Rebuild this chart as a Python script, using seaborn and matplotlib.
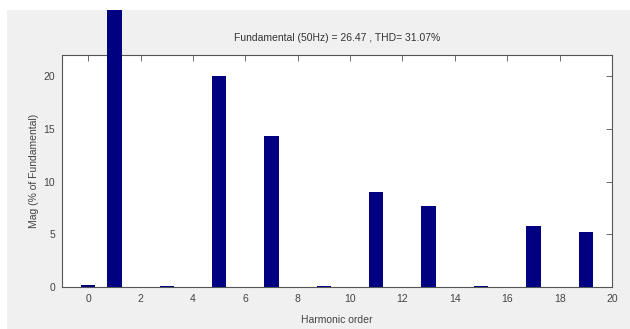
import matplotlib
matplotlib.use('Agg')
import matplotlib.pyplot as plt
import seaborn as sns
import pandas as pd
from matplotlib.patches import Rectangle
from matplotlib.transforms import Bbox, TransformedBbox

# harmonic spectrum (% of fundamental)
orders = list(range(0, 21))
mags = [0.15, 100.0, 0.0, 0.1, 0.0, 20.0, 0.0, 14.3, 0.0, 0.1, 0.0,
        9.0, 0.0, 7.7, 0.0, 0.1, 0.0, 5.8, 0.0, 5.2, 0.0]
title = 'Fundamental (50Hz) = 26.47 , THD= 31.07%'
xticks = list(range(0, 21, 2))
yticks = [0, 5, 10, 15, 20]

df = pd.DataFrame({'order': orders, 'mag': mags})

sns.set_style('white')
plt.rcParams['font.family'] = ['Liberation Sans', 'DejaVu Sans']

fig = plt.figure(figsize=(6.3, 3.29), dpi=100, facecolor='#f0f0f0')
# white strips at top and left (screenshot border)
fig.patches.append(Rectangle((0, 1 - 10 / 329), 1, 10 / 329, transform=fig.transFigure,
                             facecolor='white', edgecolor='none', zorder=-1))
fig.patches.append(Rectangle((0, 0), 7 / 630, 1, transform=fig.transFigure,
                             facecolor='white', edgecolor='none', zorder=-1))

ax = fig.add_axes([62 / 630, 1 - 287 / 329, 550 / 630, 232 / 329])
ax.set_facecolor('white')
sns.barplot(data=df, x='order', y='mag', native_scale=True, width=0.55,
            color='#000080', saturation=1, ax=ax, zorder=3, linewidth=0)

# bars are not clipped by the axes, only by the figure window
clip = TransformedBbox(Bbox([[0, 0], [1, 1 - 10 / 329]]), fig.transFigure)
for p in ax.patches:
    p.set_clip_box(clip)

ax.set_xlim(-1, 20)
ax.set_ylim(0, 22)
ax.set_xticks(xticks)
ax.set_yticks(yticks)
ax.tick_params(direction='in', top=True, right=True, length=4, width=0.6,
               color='#555555', labelsize=7.5, labelcolor='#444444', pad=5)
for s in ax.spines.values():
    s.set_color('#555555')
    s.set_linewidth(0.8)

ax.set_title(title, fontsize=7.5, color='#333333', pad=10)
ax.set_xlabel('Harmonic order', fontsize=7.5, color='#444444', labelpad=8)
ax.set_ylabel('Mag (% of Fundamental)', fontsize=7.5, color='#444444', labelpad=3)

fig.savefig('out.png', dpi=100, facecolor=fig.get_facecolor())
